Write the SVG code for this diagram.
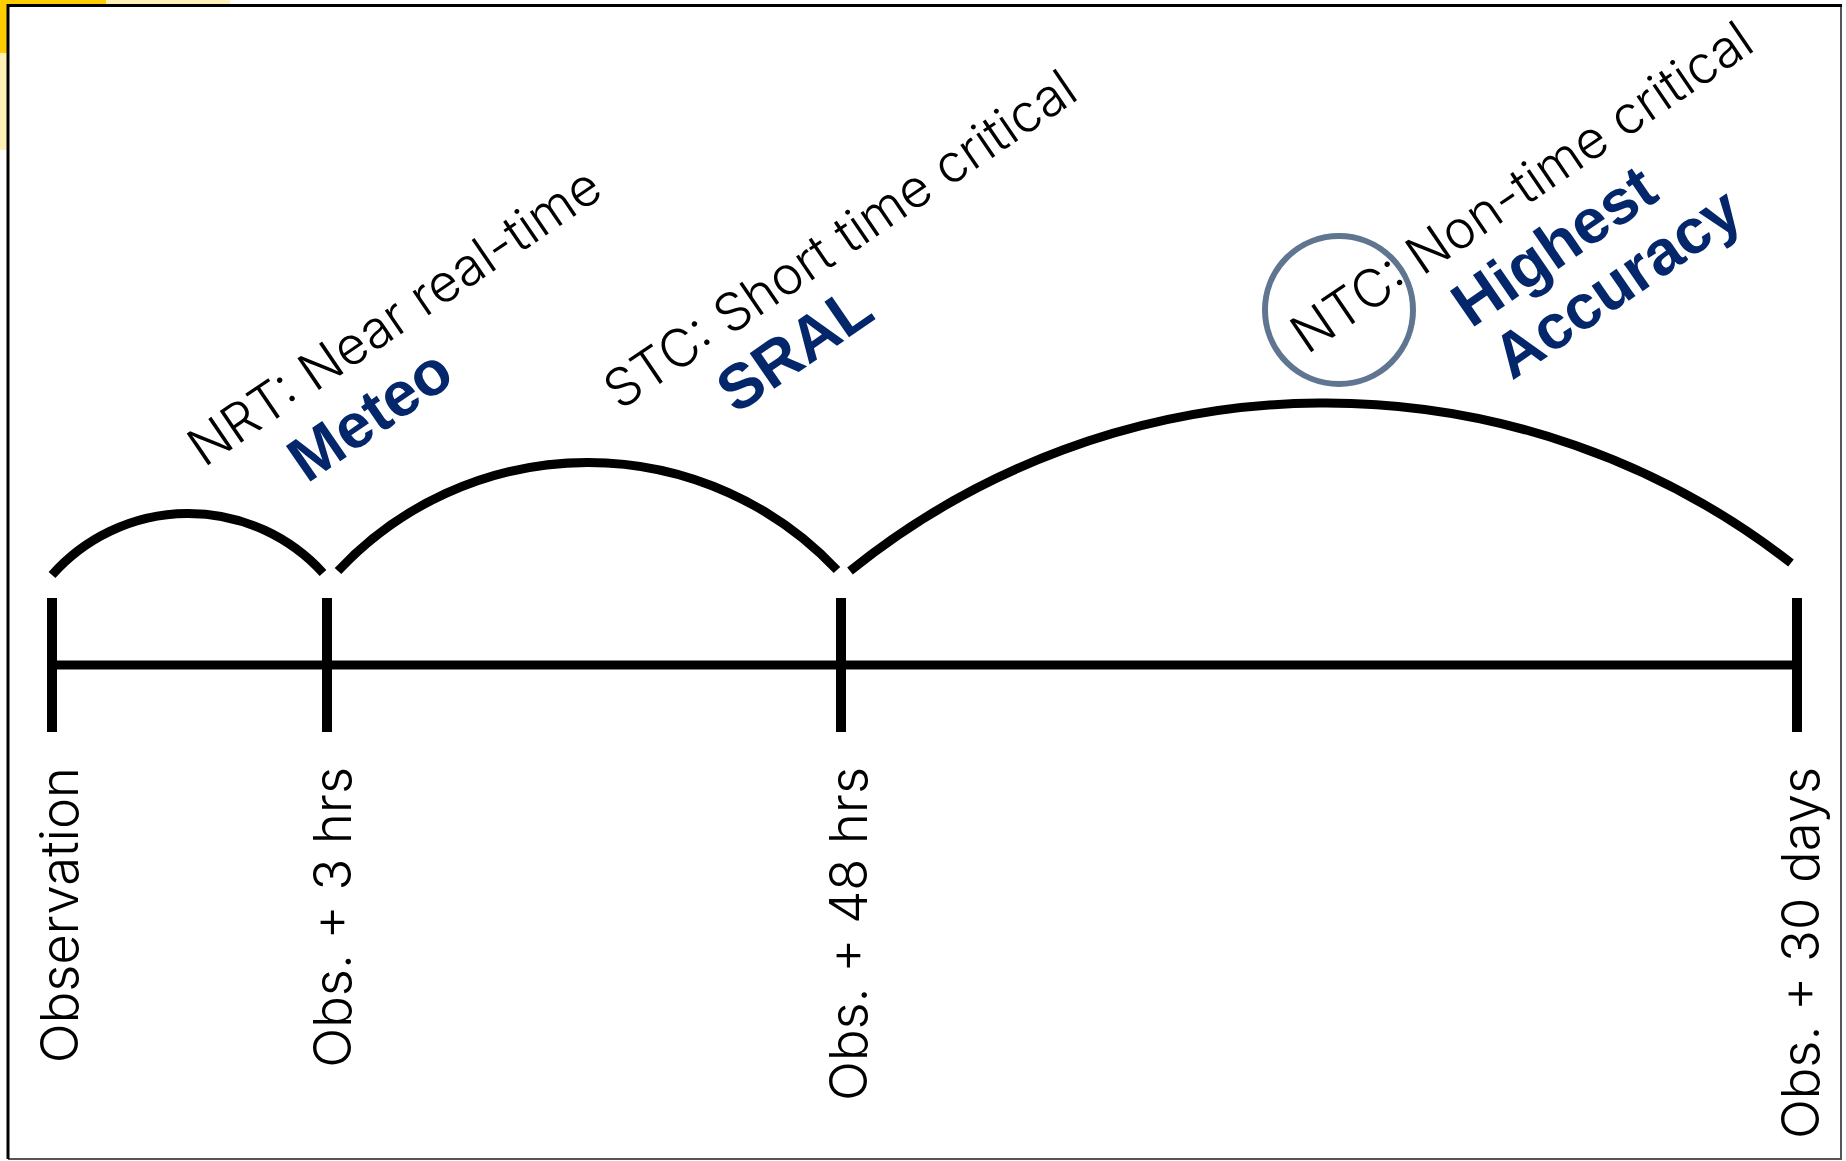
<svg xmlns="http://www.w3.org/2000/svg" width="1846" height="1161" viewBox="0 0 1846 1161">
  <style>
    .lbl { font-family: Inter, Roboto, "Liberation Sans", Arial, sans-serif; font-weight: 300; font-size: 52.5px; fill: #000; }
    .key { font-family: "Liberation Sans", Arial, sans-serif; font-size: 63px; font-weight: bold; fill: #04266B; }
    .axis { stroke: #000; stroke-width: 9; fill: none; stroke-linecap: butt; }
    .tick { stroke: #000; stroke-width: 10; fill: none; stroke-linecap: butt; }
    .arc { stroke: #000; stroke-width: 9; fill: none; stroke-linecap: butt; }
  </style>
  <rect x="0" y="0" width="1846" height="1161" fill="#fff"/>
  <!-- corner decoration -->
  <rect x="0" y="0" width="230" height="5" fill="#FFF0B5"/>
  <rect x="0" y="0" width="106" height="4" fill="#FFCC00"/>
  <rect x="0" y="0" width="7" height="150" fill="#FFF0B5"/>
  <rect x="0" y="0" width="7" height="53" fill="#FFCC00"/>
  <!-- frame -->
  <path d="M 1841 5.5 L 1841 1159 L 8 1159" fill="none" stroke="#555" stroke-width="2"/>
  <path d="M 8 1159 L 8 5.5 L 1842 5.5" fill="none" stroke="#000" stroke-width="3"/>

  <g id="connectors">
    <path class="axis" d="M 52 665 L 1797 665"/>
    <path class="tick" d="M 52 598 L 52 732"/>
    <path class="tick" d="M 327 598 L 327 732"/>
    <path class="tick" d="M 841 598 L 841 732"/>
    <path class="tick" d="M 1797 598 L 1797 732"/>
    <path class="arc" d="M 52 575 A 182 182 0 0 1 323 573"/>
    <path class="arc" d="M 338 571 A 342 342 0 0 1 837 570"/>
    <path class="arc" d="M 850 571 A 757 757 0 0 1 1791 563"/>
  </g>

  <g id="tick-observation">
    <text class="lbl" text-anchor="end" transform="translate(78 767) rotate(-90)">Observation</text>
  </g>
  <g id="tick-3hrs">
    <text class="lbl" text-anchor="end" transform="translate(351 767) rotate(-90)">Obs. + 3 hrs</text>
  </g>
  <g id="tick-48hrs">
    <text class="lbl" text-anchor="end" transform="translate(867 767) rotate(-90)">Obs. + 48 hrs</text>
  </g>
  <g id="tick-30days">
    <text class="lbl" text-anchor="end" transform="translate(1819 767) rotate(-90)">Obs. + 30 days</text>
  </g>

  <g id="nrt">
    <text class="lbl" transform="translate(204 468) rotate(-34.2)">NRT: Near real-time</text>
    <text class="key" transform="translate(307 484) rotate(-34.5)">Meteo</text>
  </g>
  <g id="stc">
    <text class="lbl" transform="translate(620 411) rotate(-34.2)">STC: Short time critical</text>
    <text class="key" transform="translate(736 415) rotate(-34.5)">SRAL</text>
  </g>
  <g id="ntc">
    <circle cx="1339" cy="310" r="74" fill="none" stroke="#5F7590" stroke-width="6"/>
    <text class="lbl" transform="translate(1307 355) rotate(-34.2)">NTC: Non-time critical</text>
    <text class="key" transform="translate(1471 329) rotate(-34.5)">Highest</text>
    <text class="key" transform="translate(1512 381) rotate(-34.5)">Accuracy</text>
  </g>
</svg>
